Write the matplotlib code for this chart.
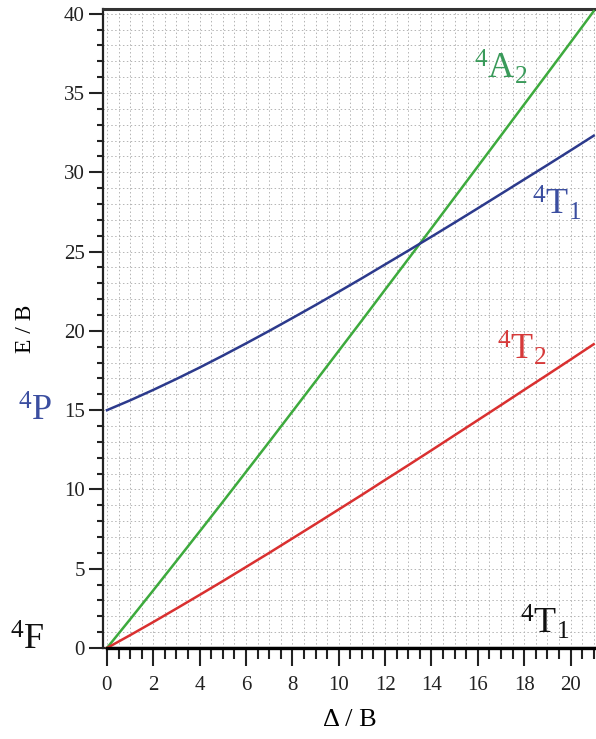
import numpy as np
import matplotlib
matplotlib.use("Agg")
from matplotlib import pyplot as plt
from matplotlib.ticker import MultipleLocator

plt.rcParams['font.family'] = ['Liberation Serif', 'DejaVu Serif']
plt.rcParams['mathtext.fontset'] = 'custom'
plt.rcParams['mathtext.rm'] = 'Liberation Serif'
plt.rcParams['mathtext.it'] = 'Liberation Serif:italic'

# Delta / B values read along the x axis
delta = [0, 1, 2, 3, 4, 5, 6, 7, 8, 9, 10, 11, 12, 13, 14, 15, 16, 17, 18, 19, 20, 21]

# E / B of each term
e_4T2 = [0.0, 0.81, 1.64, 2.49, 3.35, 4.22, 5.11, 6.0, 6.91, 7.82, 8.74,
         9.66, 10.6, 11.53, 12.47, 13.42, 14.37, 15.32, 16.28, 17.23, 18.19, 19.16]
e_4A2 = [0.0, 1.81, 3.64, 5.49, 7.35, 9.22, 11.11, 13.0, 14.91, 16.82, 18.74,
         20.66, 22.6, 24.53, 26.47, 28.42, 30.37, 32.32, 34.28, 36.23, 38.19, 40.16]
e_4T1P = [15.0, 15.62, 16.28, 16.97, 17.69, 18.44, 19.21, 20.0, 20.81, 21.63, 22.47,
          23.32, 24.19, 25.06, 25.94, 26.83, 27.73, 28.64, 29.55, 30.46, 31.38, 32.31]
e_4T1F = [0.0] * len(delta)

green = '#3daa3d'
blue = '#2c3a8c'
red = '#d93030'

fig = plt.figure(figsize=(5.96, 7.39), dpi=100)
ax = fig.add_axes([0.1728, 0.1231, 0.8272, 0.8647])

ax.plot(delta, e_4A2, color=green, lw=1.8, zorder=3)
ax.plot(delta, e_4T1P, color=blue, lw=1.8, zorder=3)
ax.plot(delta, e_4T2, color=red, lw=1.8, zorder=3)
ax.plot(delta, e_4T1F, color='black', lw=2.4, zorder=4, clip_on=False)

ax.set_xlim(-0.17, 21.1)
ax.set_ylim(0, 40.3)

ax.xaxis.set_major_locator(MultipleLocator(2))
ax.xaxis.set_minor_locator(MultipleLocator(0.5))
ax.yaxis.set_major_locator(MultipleLocator(5))
ax.yaxis.set_minor_locator(MultipleLocator(1))

ax.grid(which='both', color='#b4b4b4', lw=0.7, ls=(0, (1.5, 2.5)))
ax.set_axisbelow(True)

ax.tick_params(axis='x', which='major', direction='out', length=13, width=1.5,
               labelsize=15, pad=7, colors='#222222')
ax.tick_params(axis='x', which='minor', direction='out', length=8, width=1.5,
               colors='#222222')
ax.tick_params(axis='y', which='major', direction='out', length=10, width=1.5,
               labelsize=15, pad=3, colors='#222222')
ax.tick_params(axis='y', which='minor', direction='out', length=4.5, width=1.5,
               colors='#222222')

for s in ['left', 'bottom']:
    ax.spines[s].set_linewidth(1.6)
    ax.spines[s].set_color('#222222')
ax.spines['top'].set_linewidth(2.2)
ax.spines['top'].set_color('#333333')
ax.spines['right'].set_visible(False)

ax.set_xlabel('Δ / B', fontsize=19)
ax.xaxis.set_label_coords(0.5, -0.095)
ax.set_ylabel('E / B', fontsize=17)
ax.yaxis.set_label_coords(-0.135, 0.5)

lab = 26
ax.text(17.0, 36.6, r'$^{4}\mathrm{A}_{2}$', color='#3a9a5a', fontsize=lab,
        ha='center', va='center')
ax.text(19.4, 28.0, r'$^{4}\mathrm{T}_{1}$', color='#3b4ea0', fontsize=lab,
        ha='center', va='center')
ax.text(17.9, 18.9, r'$^{4}\mathrm{T}_{2}$', color='#d63a3a', fontsize=lab,
        ha='center', va='center')
ax.text(18.9, 1.6, r'$^{4}\mathrm{T}_{1}$', color='#111111', fontsize=lab,
        ha='center', va='center')
ax.text(-3.1, 14.9, r'$^{4}\mathrm{P}$', color='#3b4ea0', fontsize=lab,
        ha='center', va='center', clip_on=False)
ax.text(-3.45, 0.4, r'$^{4}\mathrm{F}$', color='#111111', fontsize=lab,
        ha='center', va='center', clip_on=False)

fig.savefig('out.png', dpi=100)
